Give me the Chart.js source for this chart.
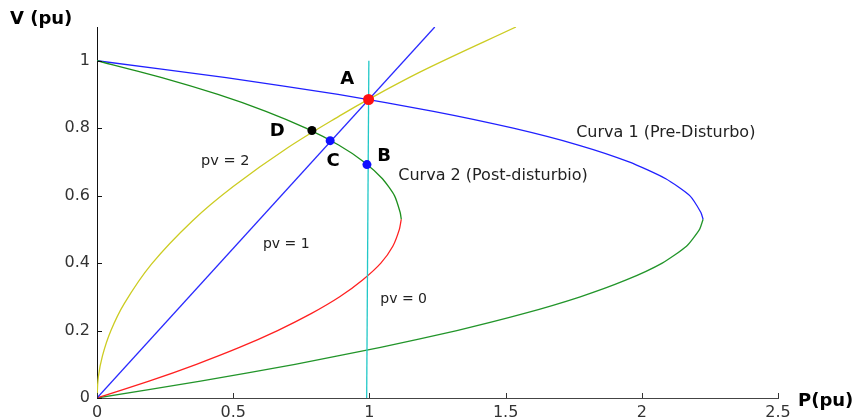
<!DOCTYPE html>
<html>
<head>
<meta charset="utf-8">
<script src="https://cdn.jsdelivr.net/npm/chart.js@4/dist/chart.umd.min.js"></script>
<style>
  html, body { margin: 0; padding: 0; background: #ffffff; }
  #wrap { width: 859px; height: 419px; }
</style>
</head>
<body>
<div id="wrap"><canvas id="c" width="859" height="419"></canvas></div>
<script>
// P-V curves (P in pu, V in pu)

// Curve 1 (pre-disturbance): upper branch and lower branch
const curve1UpperP = [0, 0.474, 0.885, 1.235, 1.528, 1.767, 1.953, 2.088, 2.176, 2.217, 2.225];
const curve1UpperV = [1, 0.95, 0.9, 0.85, 0.8, 0.75, 0.7, 0.65, 0.6, 0.55, 0.53];
const curve1LowerP = [2.225, 2.212, 2.164, 2.075, 1.943, 1.774, 1.566, 1.321, 1.041, 0.727, 0.38, 0];
const curve1LowerV = [0.53, 0.5, 0.45, 0.4, 0.35, 0.3, 0.25, 0.2, 0.15, 0.1, 0.05, 0];

// Curve 2 (post-disturbance): upper branch and lower branch
const curve2UpperP = [0, 0.238, 0.444, 0.62, 0.767, 0.887, 0.98, 1.048, 1.092, 1.113, 1.117];
const curve2UpperV = [1, 0.95, 0.9, 0.85, 0.8, 0.75, 0.7, 0.65, 0.6, 0.55, 0.53];
const curve2LowerP = [1.117, 1.11, 1.086, 1.042, 0.975, 0.891, 0.786, 0.663, 0.523, 0.365, 0.191, 0];
const curve2LowerV = [0.53, 0.5, 0.45, 0.4, 0.35, 0.3, 0.25, 0.2, 0.15, 0.1, 0.05, 0];

// Load characteristics
const loadPv2P = [0, 0.005, 0.02, 0.05, 0.1, 0.2, 0.35, 0.5, 0.7, 0.9, 1.0, 1.2, 1.538];
const loadPv2V = [0, 0.063, 0.125, 0.198, 0.28, 0.397, 0.525, 0.627, 0.742, 0.841, 0.887, 0.972, 1.1];
const loadPv1P = [0, 1.24];
const loadPv1V = [0, 1.1];
const loadPv0P = [0.99, 0.998];
const loadPv0V = [0, 1.0];

// Operating points A, B, C, D
const opNames = ['A', 'B', 'C', 'D'];
const opP = [0.997, 0.991, 0.856, 0.789];
const opV = [0.885, 0.692, 0.763, 0.793];

// Axis ticks
const xTicks = [0, 0.5, 1, 1.5, 2, 2.5];
const xTickLabels = ['0', '0.5', '1', '1.5', '2', '2.5'];
const yTicks = [0, 0.2, 0.4, 0.6, 0.8, 1];
const yTickLabels = ['0', '0.2', '0.4', '0.6', '0.8', '1'];

const pts = (xs, ys) => xs.map((x, i) => ({ x: x, y: ys[i] }));

const FONT = "'DejaVu Sans', 'Liberation Sans', sans-serif";

// Text notes placed in data coordinates (cap centre)
const notes = [
  { text: 'A', p: 0.919, v: 0.951, size: 18, bold: true, align: 'center', color: '#000' },
  { text: 'B', p: 1.054, v: 0.722, size: 18, bold: true, align: 'center', color: '#000' },
  { text: 'C', p: 0.867, v: 0.707, size: 18, bold: true, align: 'center', color: '#000' },
  { text: 'D', p: 0.662, v: 0.796, size: 18, bold: true, align: 'center', color: '#000' },
  { text: 'Curva 1 (Pre-Disturbo)', p: 1.759, v: 0.791, size: 16, bold: false, align: 'left', color: '#222' },
  { text: 'Curva 2 (Post-disturbio)', p: 1.106, v: 0.664, size: 16, bold: false, align: 'left', color: '#222' },
  { text: 'pv = 2', p: 0.382, v: 0.707, size: 14.5, bold: false, align: 'left', color: '#222' },
  { text: 'pv = 1', p: 0.609, v: 0.461, size: 14, bold: false, align: 'left', color: '#222' },
  { text: 'pv = 0', p: 1.04, v: 0.298, size: 14, bold: false, align: 'left', color: '#222' }
];

const decorPlugin = {
  id: 'decor',
  afterDraw(chart) {
    const ctx = chart.ctx;
    const xs = chart.scales.x, ys = chart.scales.y;
    ctx.save();
    // inward tick marks
    ctx.lineWidth = 1;
    ctx.strokeStyle = '#333';
    xTicks.forEach(t => {
      const px = Math.round(xs.getPixelForValue(t)) + 0.5;
      ctx.beginPath();
      ctx.moveTo(px, ys.bottom);
      ctx.lineTo(px, ys.bottom - 5);
      ctx.stroke();
    });
    ctx.strokeStyle = '#111';
    yTicks.forEach(t => {
      const py = Math.round(ys.getPixelForValue(t)) + 0.5;
      ctx.beginPath();
      ctx.moveTo(xs.left, py);
      ctx.lineTo(xs.left + 5, py);
      ctx.stroke();
    });
    // notes
    ctx.textBaseline = 'alphabetic';
    notes.forEach(n => {
      ctx.font = (n.bold ? 'bold ' : '') + n.size + 'px ' + FONT;
      ctx.fillStyle = n.color;
      ctx.textAlign = n.align;
      ctx.fillText(n.text, xs.getPixelForValue(n.p), ys.getPixelForValue(n.v) + 0.365 * n.size);
    });
    // axis titles
    ctx.font = 'bold 18px ' + FONT;
    ctx.fillStyle = '#000';
    ctx.textAlign = 'left';
    ctx.fillText('V (pu)', 10, 24);
    ctx.fillText('P(pu)', 798, 406);
    ctx.restore();
  }
};

const lineDs = (label, data, color, tension) => ({
  label, data, showLine: true, borderColor: color, backgroundColor: color,
  borderWidth: 1.3, pointRadius: 0, pointHoverRadius: 0, tension: tension, fill: false
});

new Chart(document.getElementById('c'), {
  type: 'scatter',
  data: {
    datasets: [
      {
        label: 'puntos',
        data: pts(opP, opV),
        showLine: false,
        pointRadius: [5.5, 4.5, 4.5, 4.5],
        pointBorderWidth: 0,
        pointBackgroundColor: ['#ff1010', '#1010ff', '#1010ff', '#000000'],
        pointBorderColor: ['#ff1010', '#1010ff', '#1010ff', '#000000']
      },
      lineDs('pv = 0', pts(loadPv0P, loadPv0V), '#22c8c8', 0),
      lineDs('pv = 1', pts(loadPv1P, loadPv1V), '#2a2aff', 0),
      lineDs('pv = 2', pts(loadPv2P, loadPv2V), '#cccc22', 0.35),
      lineDs('Curva 2 sup', pts(curve2UpperP, curve2UpperV), '#1d8f1d', 0.2),
      lineDs('Curva 2 inf', pts(curve2LowerP, curve2LowerV), '#ff2020', 0.2),
      lineDs('Curva 1 sup', pts(curve1UpperP, curve1UpperV), '#2020ff', 0.2),
      lineDs('Curva 1 inf', pts(curve1LowerP, curve1LowerV), '#22952a', 0.2)
    ]
  },
  options: {
    responsive: false,
    animation: false,
    devicePixelRatio: 1,
    events: [],
    layout: { padding: { left: 0, right: 81, top: 27, bottom: 0 } },
    plugins: { legend: { display: false }, tooltip: { enabled: false } },
    scales: {
      x: {
        type: 'linear', min: 0, max: 2.5,
        grid: { display: false, drawTicks: false },
        border: { display: true, color: '#444', width: 1 },
        afterBuildTicks: s => { s.ticks = xTicks.map(v => ({ value: v })); },
        afterFit: s => { s.height = 21; },
        ticks: {
          padding: 5, color: '#333', maxRotation: 0, autoSkip: false,
          font: { family: FONT, size: 16 },
          callback: (v) => { const i = xTicks.indexOf(v); return i >= 0 ? xTickLabels[i] : ''; }
        }
      },
      y: {
        type: 'linear', min: 0, max: 1.1,
        grid: { display: false, drawTicks: false },
        border: { display: true, color: '#111', width: 1 },
        afterBuildTicks: s => { s.ticks = yTicks.map(v => ({ value: v })); },
        afterFit: s => { s.width = 97; },
        ticks: {
          padding: 7, color: '#333', autoSkip: false,
          font: { family: FONT, size: 16 },
          callback: (v) => { const i = yTicks.indexOf(v); return i >= 0 ? yTickLabels[i] : ''; }
        }
      }
    }
  },
  plugins: [decorPlugin]
});
</script>
</body>
</html>
